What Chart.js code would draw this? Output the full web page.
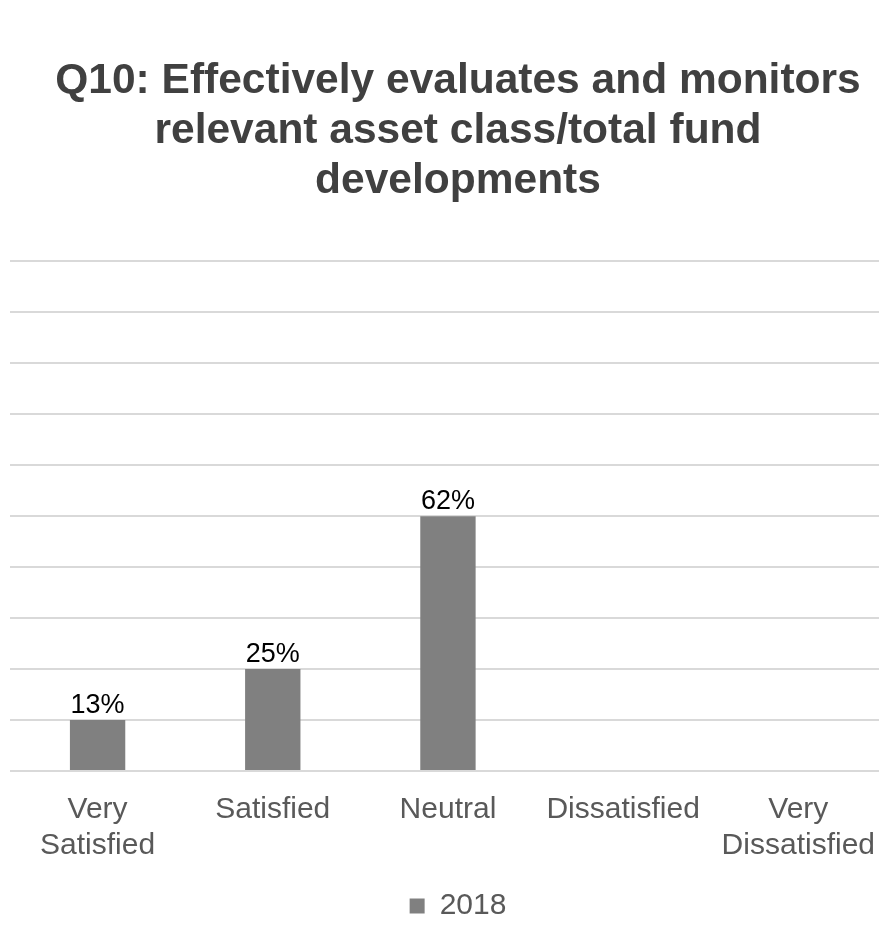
<!DOCTYPE html>
<html>
<head>
<meta charset="utf-8">
<script src="https://cdn.jsdelivr.net/npm/chart.js@4.4.1/dist/chart.umd.min.js"></script>
<style>
  html, body { margin: 0; padding: 0; background: #fff; }
  #wrap { position: relative; width: 879px; height: 931px; overflow: hidden; }
  #inner { position: relative; width: 888px; height: 931px; }
</style>
</head>
<body>
<div id="wrap"><div id="inner"><canvas id="myChart"></canvas></div></div>
<script>
const categories = [["Very", "Satisfied"], "Satisfied", "Neutral", "Dissatisfied", ["Very", "Dissatisfied"]];
const values2018 = [12.5, 25, 62.5, null, null];
const valueLabels = ["13%", "25%", "62%", "", ""];
const titleLines = ["Q10: Effectively evaluates and monitors", "relevant asset class/total fund", "developments"];

// draws the % text above each bar
const barLabels = {
    id: 'barLabels',
    afterDatasetsDraw(chart) {
        const ctx = chart.ctx;
        const meta = chart.getDatasetMeta(0);
        ctx.save();
        ctx.font = '27px "Liberation Sans", Arial, sans-serif';
        ctx.fillStyle = '#000';
        ctx.textAlign = 'center';
        ctx.textBaseline = 'alphabetic';
        meta.data.forEach((bar, i) => {
            if (values2018[i] == null) return;
            ctx.fillText(valueLabels[i], bar.x, bar.y - 7);
        });
        ctx.restore();
    }
};

const ctx = document.getElementById('myChart').getContext('2d');
const myChart = new Chart(ctx, {
    type: 'bar',
    data: {
        labels: categories,
        datasets: [{
            label: '2018',
            data: values2018,
            backgroundColor: '#808080',
            barPercentage: 0.316,
            categoryPercentage: 1
        }]
    },
    options: {
        responsive: true,
        maintainAspectRatio: false,
        animation: false,
        layout: { padding: { left: 10, right: -18, top: 0, bottom: 0 } },
        plugins: {
            title: {
                display: true,
                text: titleLines,
                color: '#404040',
                font: { family: '"Liberation Sans", Arial, sans-serif', size: 42.5, weight: 'bold', lineHeight: 1.18 },
                padding: { top: 56, bottom: 55 }
            },
            legend: {
                position: 'bottom',
                labels: {
                    color: '#595959',
                    font: { family: '"Liberation Sans", Arial, sans-serif', size: 30 },
                    boxWidth: 15,
                    boxHeight: 15,
                    padding: 14
                }
            },
            tooltip: { enabled: false }
        },
        scales: {
            x: {
                grid: { display: false },
                border: { display: false },
                ticks: {
                    color: '#595959',
                    font: { family: '"Liberation Sans", Arial, sans-serif', size: 30, lineHeight: 1.2 },
                    maxRotation: 0,
                    autoSkip: false,
                    padding: 13
                }
            },
            y: {
                min: 0,
                max: 125,
                ticks: { display: false, stepSize: 12.5 },
                grid: { color: '#d9d9d9', lineWidth: 2, drawTicks: false },
                border: { display: false },
                afterFit(axis) { axis.width = 0; }
            }
        }
    },
    plugins: [barLabels]
});
</script>
</body>
</html>
